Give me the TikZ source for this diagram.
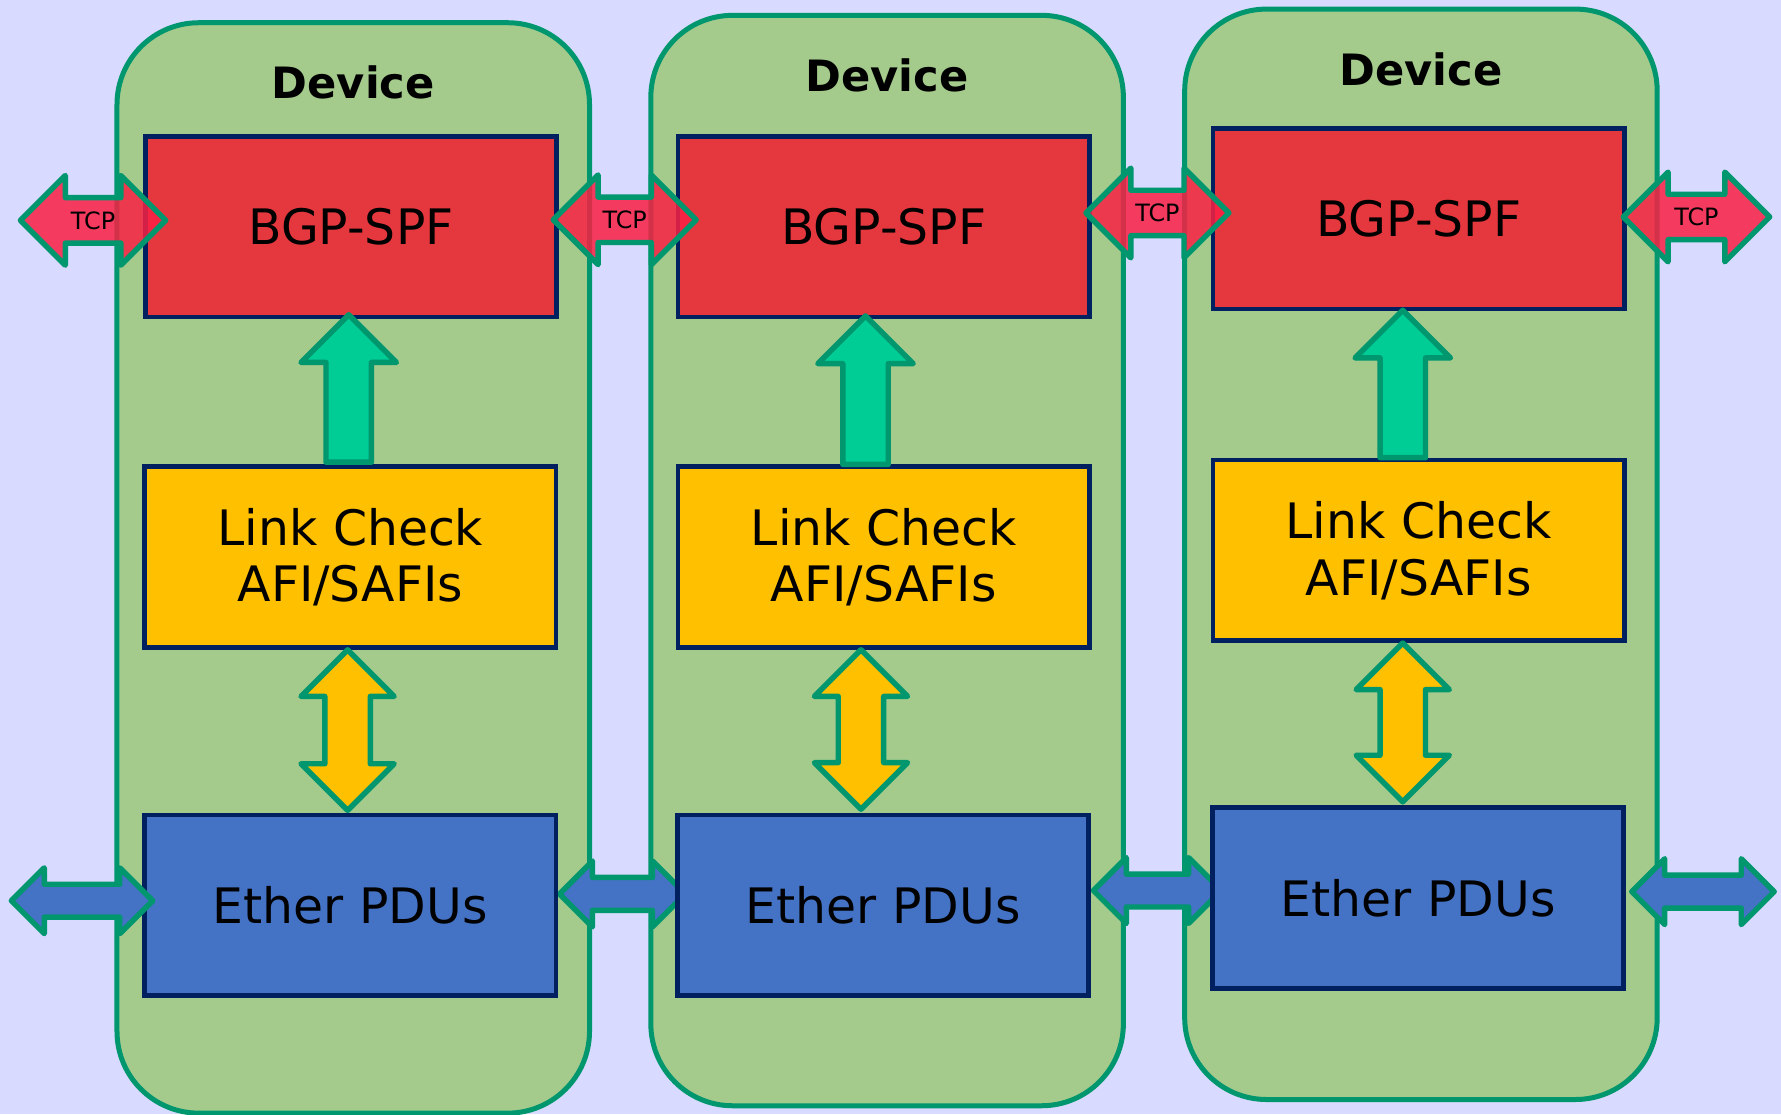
\documentclass[tikz,border=0pt]{standalone}
\usepackage{fontspec}
\setmainfont{DejaVu Sans}
\usetikzlibrary{calc}

\definecolor{paper}{RGB}{216,218,255}
\definecolor{devfill}{RGB}{164,202,140}
\definecolor{devline}{RGB}{0,150,110}
\definecolor{boxline}{RGB}{0,32,96}
\definecolor{bgpred}{RGB}{229,56,62}
\definecolor{linkyellow}{RGB}{255,192,0}
\definecolor{etherblue}{RGB}{68,114,196}
\definecolor{arrowgreen}{RGB}{0,204,150}
\definecolor{tcpred}{RGB}{249,32,67}

\pgfdeclarelayer{devlayer}
\pgfdeclarelayer{linklayer}
\pgfsetlayers{devlayer,linklayer,main}

\tikzset{
  device/.style={draw=devline, fill=devfill, line width=2.2pt, rounded corners=36pt,
    minimum width=208pt, minimum height=480pt},
  devlabel/.style={font=\fontsize{19}{21}\selectfont\bfseries},
  block/.style={draw=boxline, line width=2.1pt, minimum width=181pt, minimum height=79.5pt,
    inner sep=0pt, align=center, font=\fontsize{21.5}{25}\selectfont},
  bgpbox/.style={block, fill=bgpred},
  linkbox/.style={block, fill=linkyellow},
  etherbox/.style={block, fill=etherblue},
  fatarrow/.style={draw=devline, line width=2.4pt, line join=round},
  tcparrow/.style={fatarrow, fill=tcpred, fill opacity=0.85},
  etherarrow/.style={fatarrow, fill=etherblue},
  greenarrow/.style={fatarrow, fill=arrowgreen},
  yellowarrow/.style={fatarrow, fill=linkyellow},
  tcptext/.style={font=\fontsize{10.5}{12}\selectfont, inner sep=1pt}
}

% #1 style, #2 left end, #3 right end, #4 head half width, #5 shaft half width
\newcommand{\hlink}[5]{%
  \path[#1] let \p1=#2, \p2=#3 in
    (\x1,\y1) -- (\x1+#4,\y1+#4) -- (\x1+#4,\y1+#5) -- (\x2-#4,\y1+#5)
    -- (\x2-#4,\y1+#4) -- (\x2,\y1) -- (\x2-#4,\y1-#4) -- (\x2-#4,\y1-#5)
    -- (\x1+#4,\y1-#5) -- (\x1+#4,\y1-#4) -- cycle;}
\newcommand{\uplink}[5]{%
  \path[#1] let \p1=#2, \p2=#3 in
    (\x2,\y2) -- (\x2+#4,\y2-#4) -- (\x2+#5,\y2-#4) -- (\x2+#5,\y1)
    -- (\x2-#5,\y1) -- (\x2-#5,\y2-#4) -- (\x2-#4,\y2-#4) -- cycle;}
\newcommand{\updownlink}[5]{%
  \path[#1] let \p1=#2, \p2=#3 in
    (\x2,\y2) -- (\x2+#4,\y2-#4) -- (\x2+#5,\y2-#4) -- (\x2+#5,\y1+#4)
    -- (\x2+#4,\y1+#4) -- (\x2,\y1) -- (\x2-#4,\y1+#4) -- (\x2-#5,\y1+#4)
    -- (\x2-#5,\y2-#4) -- (\x2-#4,\y2-#4) -- cycle;}

\begin{document}
\begin{tikzpicture}[x=0.5pt, y=0.5pt]
    \useasboundingbox (0,0) rectangle (1568,-981);
    \begin{pgfonlayer}{devlayer}
        \fill[paper] (0,0) rectangle (1568,-981);
        \node[device] (dev1) at (311,-500) {};
        \node[device] (dev2) at (781,-493.5) {};
        \node[device] (dev3) at (1251,-488) {};
    \end{pgfonlayer}
    \node[devlabel] (name1) at ([yshift=-27.5pt]dev1.north) {Device};
    \node[devlabel] (name2) at ([yshift=-27.5pt]dev2.north) {Device};
    \node[devlabel] (name3) at ([yshift=-27.5pt]dev3.north) {Device};

    \node[bgpbox] (bgp1) at (309,-199.5) {BGP-SPF};
    \node[linkbox] (link1) at (308.5,-490.5) {Link Check\\AFI/SAFIs};
    \node[etherbox] (ether1) at (308.5,-797) {Ether PDUs};

    \node[bgpbox] (bgp2) at (778,-199.5) {BGP-SPF};
    \node[linkbox] (link2) at (778,-490.5) {Link Check\\AFI/SAFIs};
    \node[etherbox] (ether2) at (777.5,-797) {Ether PDUs};

    \node[bgpbox] (bgp3) at (1249,-192.5) {BGP-SPF};
    \node[linkbox] (link3) at (1249,-484.5) {Link Check\\AFI/SAFIs};
    \node[etherbox] (ether3) at (1248.5,-790.5) {Ether PDUs};

    \uplink{greenarrow}{([xshift=-1pt,yshift=1pt]link1.north)}{([xshift=-1pt,yshift=2pt]bgp1.south)}{21pt}{10pt}
    \uplink{greenarrow}{([xshift=-8pt]link2.north)}{([xshift=-8pt,yshift=1.5pt]bgp2.south)}{21pt}{10pt}
    \uplink{greenarrow}{([xshift=-7pt]link3.north)}{([xshift=-7pt,yshift=0.5pt]bgp3.south)}{21pt}{10pt}

    \updownlink{yellowarrow}{([xshift=-1.25pt,yshift=1pt]ether1.north)}{([xshift=-1.25pt]link1.south)}{20.5pt}{10pt}
    \updownlink{yellowarrow}{([xshift=-10pt,yshift=1.5pt]ether2.north)}{([xshift=-10pt]link2.south)}{20.5pt}{10pt}
    \updownlink{yellowarrow}{([xshift=-7pt,yshift=1.5pt]ether3.north)}{([xshift=-7pt]link3.south)}{20.5pt}{10pt}

    \coordinate (t1a) at (18,-194);
    \coordinate (t1b) at ([xshift=10pt,yshift=2.75pt]bgp1.west);
    \coordinate (t2a) at ([xshift=-2.5pt,yshift=3pt]bgp1.east);
    \coordinate (t2b) at ([xshift=9pt,yshift=3pt]bgp2.west);
    \coordinate (t3a) at ([xshift=-2.5pt,yshift=6pt]bgp2.east);
    \coordinate (t3b) at ([xshift=8pt,yshift=2.5pt]bgp3.west);
    \coordinate (t4a) at ([xshift=-1.5pt,yshift=0.75pt]bgp3.east);
    \coordinate (t4b) at (1558,-191);
    \hlink{tcparrow}{(t1a)}{(t1b)}{19.75pt}{10pt}
    \hlink{tcparrow}{(t2a)}{(t2b)}{19.75pt}{10pt}
    \hlink{tcparrow}{(t3a)}{(t3b)}{19.75pt}{10pt}
    \hlink{tcparrow}{(t4a)}{(t4b)}{19.75pt}{10pt}
    \node[tcptext] (tcp1) at ($(t1a)!0.5!(t1b)$) {TCP};
    \node[tcptext] (tcp2) at ($(t2a)!0.5!(t2b)$) {TCP};
    \node[tcptext] (tcp3) at ($(t3a)!0.5!(t3b)$) {TCP};
    \node[tcptext] (tcp4) at ($(t4a)!0.5!(t4b)$) {TCP};

    \coordinate (e1a) at (10,-793);
    \coordinate (e1b) at ([xshift=4.5pt,yshift=2pt]ether1.west);
    \coordinate (e2a) at ([xshift=0.5pt,yshift=5pt]ether1.east);
    \coordinate (e2b) at ([xshift=4.5pt,yshift=5pt]ether2.west);
    \coordinate (e3a) at ([xshift=1pt,yshift=6.5pt]ether2.east);
    \coordinate (e3b) at ([xshift=5pt,yshift=3.25pt]ether3.west);
    \coordinate (e4a) at ([xshift=2.5pt,yshift=2.75pt]ether3.east);
    \coordinate (e4b) at (1562,-785);
    \hlink{etherarrow}{(e1a)}{(e1b)}{14.5pt}{7.25pt}
    \begin{pgfonlayer}{linklayer}
        \hlink{etherarrow}{(e2a)}{(e2b)}{14.5pt}{7.25pt}
        \hlink{etherarrow}{(e3a)}{(e3b)}{14.5pt}{7.25pt}
    \end{pgfonlayer}
    \hlink{etherarrow}{(e4a)}{(e4b)}{14.5pt}{7.25pt}
\end{tikzpicture}
\end{document}
